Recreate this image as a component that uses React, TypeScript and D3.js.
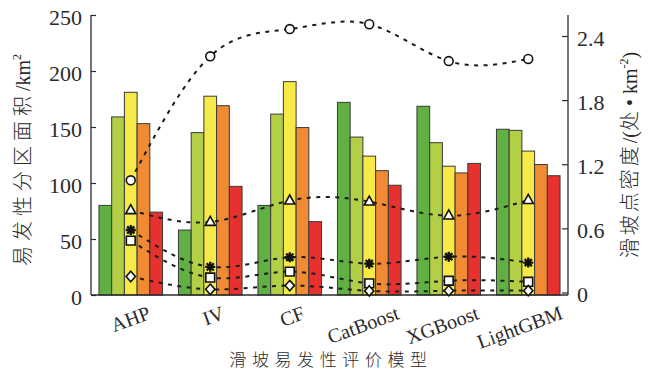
import React, { useEffect, useRef } from 'react';
import * as d3 from 'd3';

// Evaluation models along the x axis
const models = ['AHP', 'IV', 'CF', 'CatBoost', 'XGBoost', 'LightGBM'];

// Susceptibility classes (bar order inside each group)
const levels = ['极低易发', '低易发', '中易发', '高易发', '极高易发'];
const levelColors = ['#60b043', '#b2cf46', '#f6e948', '#f08b34', '#e7312f'];

// Zone area per class, km²
const veryLowArea = [80, 58, 80, 172, 168.5, 148];
const lowArea = [159, 145, 161.5, 141, 136, 147];
const moderateArea = [181, 177.5, 190.5, 124, 115, 128.5];
const highArea = [153, 169, 149.5, 111, 109, 116.5];
const veryHighArea = [74, 97, 65.5, 98, 117.5, 106.5];

// Landslide point density per class, 处·km⁻²
const veryHighDensity = [1.05, 2.21, 2.465, 2.51, 2.165, 2.185];
const highDensity = [0.77, 0.66, 0.86, 0.85, 0.72, 0.865];
const moderateDensity = [0.585, 0.24, 0.33, 0.27, 0.335, 0.28];
const lowDensity = [0.485, 0.14, 0.195, 0.085, 0.11, 0.1];
const veryLowDensity = [0.15, 0.03, 0.065, 0.015, 0.017, 0.017];

// Axis tick values
const areaTicks = [0, 50, 100, 150, 200, 250];
const densityTicks = [0, 0.6, 1.2, 1.8, 2.4];

const areaSeries = [veryLowArea, lowArea, moderateArea, highArea, veryHighArea];

const densitySeries = [
  { name: levels[4], values: veryHighDensity, marker: 'circle' },
  { name: levels[3], values: highDensity, marker: 'triangle' },
  { name: levels[2], values: moderateDensity, marker: 'asterisk' },
  { name: levels[1], values: lowDensity, marker: 'square' },
  { name: levels[0], values: veryLowDensity, marker: 'diamond' },
];

const SERIF = "'Liberation Serif', 'Times New Roman', serif";
const CJK = "'Noto Sans CJK SC', 'Noto Sans', sans-serif";
const INK = '#2b2b2b';

export default function App() {
  const ref = useRef<SVGSVGElement>(null);

  useEffect(() => {
    const svg = d3.select(ref.current as SVGSVGElement);
    svg.selectAll('*').remove();

    const left = 91;
    const right = 568;
    const top = 15;
    const bottom = 295;

    const x = d3
      .scaleBand<string>()
      .domain(models)
      .range([left, right])
      .paddingInner(0.2)
      .paddingOuter(0.1);
    const xs = d3
      .scaleBand<number>()
      .domain(d3.range(levels.length))
      .range([0, x.bandwidth()]);
    const yL = d3.scaleLinear().domain([0, 250]).range([bottom, top]);
    const yR = d3.scaleLinear().domain([0, 2.4]).range([292.5, 36]);
    const cx = (m: string) => (x(m) as number) + x.bandwidth() / 2;

    // Bars
    const gBars = svg.append('g');
    models.forEach((m, i) => {
      areaSeries.forEach((series, j) => {
        gBars
          .append('rect')
          .attr('x', (x(m) as number) + (xs(j) as number))
          .attr('y', yL(series[i]))
          .attr('width', xs.bandwidth())
          .attr('height', bottom - yL(series[i]))
          .attr('fill', levelColors[j])
          .attr('stroke', '#3a3a3a')
          .attr('stroke-width', 1);
      });
    });

    // Axes
    const axisL = svg
      .append('g')
      .attr('transform', `translate(${left},0)`)
      .call(
        d3
          .axisLeft(yL)
          .tickValues(areaTicks)
          .tickSize(-5)
          .tickSizeOuter(0)
          .tickPadding(9)
          .tickFormat(d3.format('d'))
      );
    const axisR = svg
      .append('g')
      .attr('transform', `translate(${right},0)`)
      .call(
        d3
          .axisRight(yR)
          .tickValues(densityTicks)
          .tickSize(-6)
          .tickSizeOuter(0)
          .tickPadding(9)
          .tickFormat((d) => (d === 0 ? '0' : d3.format('.1f')(d as number)))
      );
    [axisL, axisR].forEach((g) => {
      g.select('.domain').remove();
      g.attr('font-family', SERIF).attr('font-size', 22);
      g.selectAll('.tick line').attr('stroke', INK).attr('stroke-width', 1.2);
      g.selectAll('.tick text').attr('fill', INK).attr('dy', '0.42em');
    });

    svg
      .append('line')
      .attr('x1', left).attr('x2', left).attr('y1', top).attr('y2', bottom)
      .attr('stroke', INK).attr('stroke-width', 1.3);
    svg
      .append('line')
      .attr('x1', right).attr('x2', right).attr('y1', top).attr('y2', bottom)
      .attr('stroke', INK).attr('stroke-width', 1.3);
    svg
      .append('line')
      .attr('x1', left).attr('x2', right).attr('y1', bottom).attr('y2', bottom)
      .attr('stroke', INK).attr('stroke-width', 1.3);

    // Category labels, tilted
    svg
      .append('g')
      .selectAll('text')
      .data(models)
      .join('text')
      .attr('font-family', SERIF)
      .attr('font-size', 20)
      .attr('fill', INK)
      .attr('text-anchor', 'end')
      .attr('dy', '0.72em')
      .text((d) => d)
      .each(function (d) {
        const w = (this as SVGTextElement).getComputedTextLength();
        d3.select(this).attr(
          'transform',
          `translate(${cx(d) + 4 + 0.3 * w},305) rotate(-20)`
        );
      });

    // Density curves
    const line = d3
      .line<number>()
      .x((_, i) => cx(models[i]))
      .y((v) => yR(v))
      .curve(d3.curveNatural);
    const gLines = svg.append('g');
    densitySeries.forEach((s) => {
      gLines
        .append('path')
        .attr('d', line(s.values) as string)
        .attr('fill', 'none')
        .attr('stroke', '#1a1a1a')
        .attr('stroke-width', 2)
        .attr('stroke-dasharray', '4,5.5');
    });

    // Markers
    const shapes: Record<string, string> = {
      circle: d3.symbol(d3.symbolCircle, 62)() as string,
      triangle: 'M0,-5.6L5,3.4L-5,3.4Z',
      asterisk: 'M-5,0H5M0,-5V5M-3.6,-3.6L3.6,3.6M-3.6,3.6L3.6,-3.6',
      square: 'M-4.4,-4.4H4.4V4.4H-4.4Z',
      diamond: 'M0,-5.2L4.6,0L0,5.2L-4.6,0Z',
    };
    const gMarks = svg.append('g');
    densitySeries.forEach((s) => {
      s.values.forEach((v, i) => {
        const p = gMarks
          .append('path')
          .attr('transform', `translate(${cx(models[i])},${yR(v)})`)
          .attr('d', shapes[s.marker])
          .attr('stroke', '#111')
          .attr('stroke-linejoin', 'miter');
        if (s.marker === 'asterisk') {
          p.attr('fill', 'none').attr('stroke-width', 2.3);
        } else {
          p.attr('fill', '#fff').attr('stroke-width', 1.6);
        }
      });
    });

    // Axis titles
    const tl = svg
      .append('text')
      .attr('transform', 'translate(30,160) rotate(-90)')
      .attr('text-anchor', 'middle')
      .attr('font-size', 20)
      .attr('fill', INK);
    tl.append('tspan').attr('font-family', CJK).attr('font-weight', 300).attr('letter-spacing', 5).text('易发性分区面积');
    tl.append('tspan').attr('font-family', SERIF).text('/km');
    tl.append('tspan').attr('font-family', SERIF).attr('font-size', 12).attr('dy', -9).text('2');

    const tr = svg
      .append('text')
      .attr('transform', 'translate(637,155) rotate(-90)')
      .attr('text-anchor', 'middle')
      .attr('font-size', 20)
      .attr('fill', INK);
    tr.append('tspan').attr('font-family', CJK).attr('font-weight', 300).attr('letter-spacing', 3).text('滑坡点密度');
    tr.append('tspan').attr('font-family', SERIF).text('/(');
    tr.append('tspan').attr('font-family', CJK).attr('font-weight', 300).text('处');
    tr.append('tspan').attr('font-family', SERIF).text(' • km');
    tr.append('tspan').attr('font-family', SERIF).attr('font-size', 12).attr('dy', -9).text('-2');
    tr.append('tspan').attr('font-family', SERIF).attr('dy', 9).text(')');

    svg
      .append('text')
      .attr('x', 331)
      .attr('y', 366)
      .attr('text-anchor', 'middle')
      .attr('font-family', CJK)
      .attr('font-weight', 300)
      .attr('font-size', 17)
      .attr('letter-spacing', 5.6)
      .attr('fill', INK)
      .text('滑坡易发性评价模型');
  }, []);

  return (
    <svg
      ref={ref}
      width={658}
      height={380}
      style={{ position: 'absolute', left: 0, top: 0, background: '#fff' }}
    />
  );
}
